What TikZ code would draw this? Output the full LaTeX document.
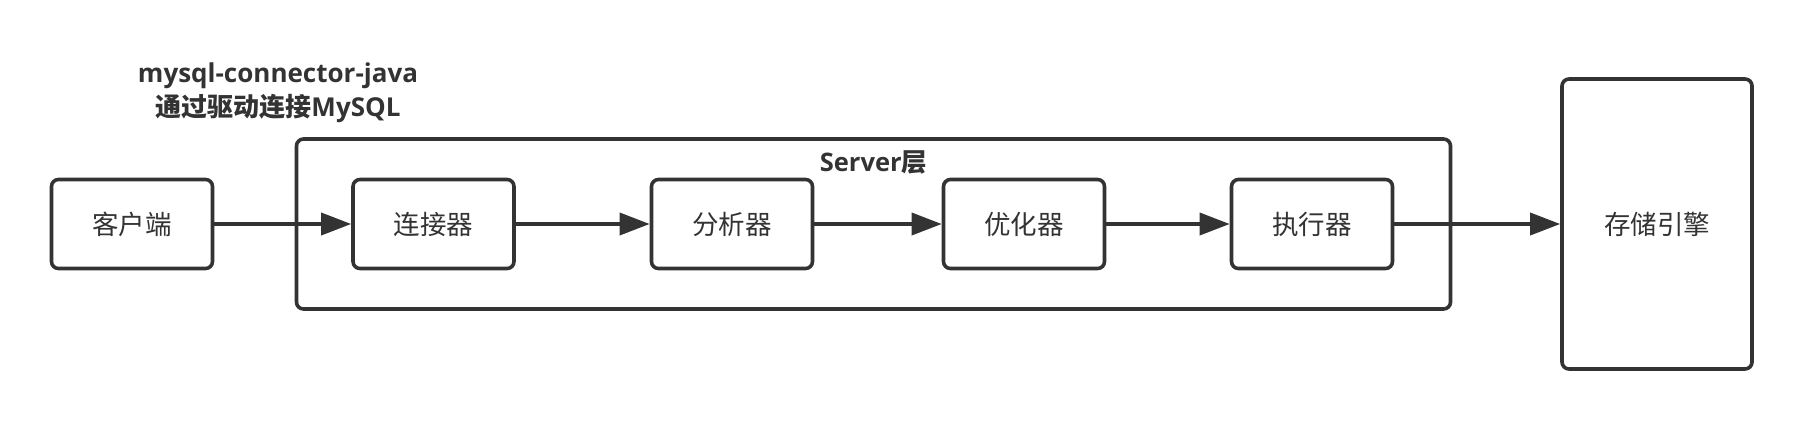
\documentclass[tikz,border=0pt]{standalone}
\usepackage{fontspec}
\setmainfont{Open Sans}
\newfontfamily\cjk{Noto Sans CJK SC}
\usepackage{tikz}
\usetikzlibrary{arrows.meta}
\definecolor{ink}{HTML}{333333}

\begin{document}
\begin{tikzpicture}[x=1pt,y=-1pt,>={Triangle[length=30pt,width=22pt]},
                    line width=3.6pt,draw=ink,text=ink,
                    step box/.style={rectangle,draw=ink,rounded corners=7pt,
                      minimum width=161pt,minimum height=89pt,inner sep=0pt,
                      font=\cjk\fontsize{26.5}{30}\selectfont}]
  \useasboundingbox (0,0) rectangle (1804,421);
  % Nodes
  \node[step box] (client) at (132,224) {客户端};
  \node[step box] (conn) [right of = client, node distance=301.5pt] {连接器};
  \node[step box] (parse) [right of = conn, node distance=298.5pt] {分析器};
  \node[step box] (opt) [right of = parse, node distance=292pt] {优化器};
  \node[step box] (exec) [right of = opt, node distance=288pt] {执行器};
  \node[step box, minimum width=190pt, minimum height=290pt]
       (engine) [right of = exec, node distance=345pt] {存储引擎};

  % Server layer
  \node[rectangle,draw=ink,rounded corners=7pt,minimum width=1154pt,
        minimum height=170pt,inner sep=0pt] (server) at (873.5,224) {};
  \node[font=\bfseries\fontsize{25.5}{30}\selectfont,inner sep=0pt]
       (serverlabel) at ([yshift=-25pt]server.north) {Server{\cjk 层}};

  % Driver label
  \node[font=\bfseries\fontsize{26}{34}\selectfont,align=center,inner sep=0pt]
       (driver) at (278,93) {mysql-connector-java\\{\cjk 通过驱动连接}MySQL};

  % Edges
  \draw[->] (client) -- (conn);
  \draw[->] (conn) -- (parse);
  \draw[->] (parse) -- (opt);
  \draw[->] (opt) -- (exec);
  \draw[->] (exec) -- (engine);
\end{tikzpicture}
\end{document}
